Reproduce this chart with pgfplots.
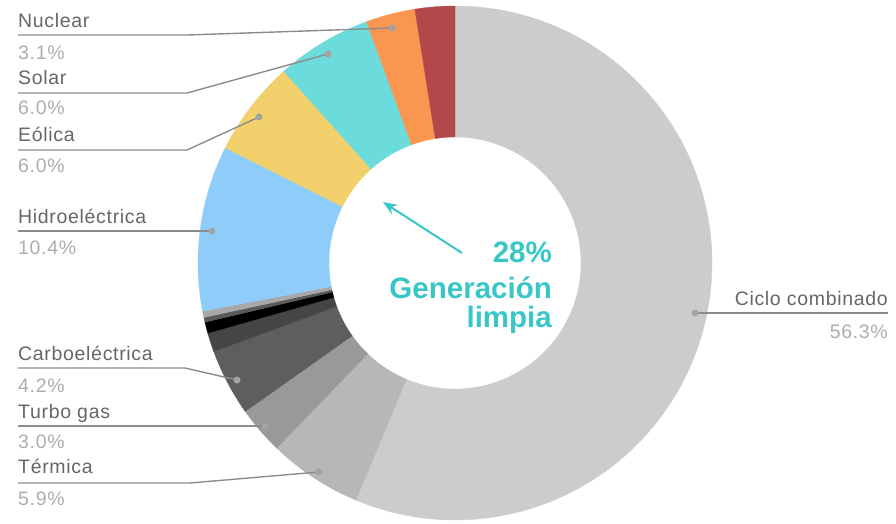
\documentclass[border=0pt]{standalone}
\usepackage{fontspec}
\setmainfont{Liberation Sans}
\newfontfamily\lblfont[LetterSpace=3.5]{Liberation Sans}
\usepackage{pgfplots}
\pgfplotsset{compat=1.18}
\usetikzlibrary{arrows.meta}

\definecolor{cc}{HTML}{CCCCCC}
\definecolor{te}{HTML}{B7B7B7}
\definecolor{tg}{HTML}{999999}
\definecolor{ca}{HTML}{5E5E5E}
\definecolor{o1}{HTML}{454545}
\definecolor{o2}{HTML}{000000}
\definecolor{o3}{HTML}{5A5A5A}
\definecolor{o4}{HTML}{A8A8A8}
\definecolor{hi}{HTML}{8ECDFA}
\definecolor{eo}{HTML}{F2D06B}
\definecolor{so}{HTML}{6CDBDB}
\definecolor{nu}{HTML}{FA9650}
\definecolor{ge}{HTML}{B3484B}
\definecolor{name}{HTML}{666666}
\definecolor{pct}{HTML}{ADADAD}
\definecolor{lead}{HTML}{8C8C8C}
\definecolor{teal}{HTML}{38C6C6}

\tikzset{
  lbl/.style={font=\lblfont\fontsize{19.5}{22}\selectfont, inner sep=0pt},
  big/.style={anchor=base east, inner sep=0pt, text=teal,
              font=\fontsize{29.5}{32}\bfseries},
  leader/.style={draw=lead, line width=1.4pt},
  dot/.style={fill=lead!80},
}

\begin{document}
\begin{tikzpicture}
\begin{axis}[name=ax, x=1pt, y=1pt, xmin=0, xmax=896, ymin=0, ymax=523,
  hide axis, clip=false]

% slices, clockwise from the top, in percent
\pgfplotsextra{%
  \begin{scope}[shift={(axis cs:455,260)}]
  \gdef\acc{90}%
  \foreach \p/\c in {56.3/cc, 5.9/te, 3.0/tg, 4.2/ca, 1.2/o1, 0.7/o2, 0.3/o3,
                     0.4/o4, 10.4/hi, 6.0/eo, 6.0/so, 3.1/nu, 2.5/ge}{%
    \pgfmathsetmacro\b{\acc-3.6*\p}%
    \fill[\c, draw=\c, line width=0.3pt] (\acc:257pt)
      arc[start angle=\acc, end angle=\b, radius=257pt]
      -- (\b:126pt) arc[start angle=\b, end angle=\acc, radius=126pt] -- cycle;
    \xdef\acc{\b}%
  }
  \end{scope}
}

% leader lines
\draw[leader] (axis cs:18,488) -- (axis cs:188,488) -- (axis cs:392,495);
\draw[leader] (axis cs:18,430) -- (axis cs:187,430) -- (axis cs:328,469);
\draw[leader] (axis cs:18,373) -- (axis cs:187,373) -- (axis cs:259,406);
\draw[leader] (axis cs:18,292) -- (axis cs:212,292);
\draw[leader] (axis cs:18,155) -- (axis cs:185,155) -- (axis cs:237,143);
\draw[leader] (axis cs:18,97) -- (axis cs:265,97);
\draw[leader] (axis cs:18,40) -- (axis cs:190,40) -- (axis cs:319,51);
\draw[leader] (axis cs:695,210) -- (axis cs:888,210);
\fill[dot] (axis cs:392,495) circle[radius=3.5pt];
\fill[dot] (axis cs:328,469) circle[radius=3.5pt];
\fill[dot] (axis cs:259,406) circle[radius=3.5pt];
\fill[dot] (axis cs:212,292) circle[radius=3.5pt];
\fill[dot] (axis cs:237,143) circle[radius=3.5pt];
\fill[dot] (axis cs:265,97) circle[radius=3.5pt];
\fill[dot] (axis cs:319,51) circle[radius=3.5pt];
\fill[dot] (axis cs:695,210) circle[radius=3.5pt];

% labels
\node[lbl, anchor=base west, text=name] at (axis cs:18,495) {Nuclear};
\node[lbl, anchor=base west, text=pct]  at (axis cs:18,463) {3.1\%};
\node[lbl, anchor=base west, text=name] at (axis cs:18,438) {Solar};
\node[lbl, anchor=base west, text=pct]  at (axis cs:18,408) {6.0\%};
\node[lbl, anchor=base west, text=name] at (axis cs:18,381) {Eólica};
\node[lbl, anchor=base west, text=pct]  at (axis cs:18,351) {6.0\%};
\node[lbl, anchor=base west, text=name] at (axis cs:18,300) {Hidroeléctrica};
\node[lbl, anchor=base west, text=pct]  at (axis cs:18,269) {10.4\%};
\node[lbl, anchor=base west, text=name] at (axis cs:18,163) {Carboeléctrica};
\node[lbl, anchor=base west, text=pct]  at (axis cs:18,131) {4.2\%};
\node[lbl, anchor=base west, text=name] at (axis cs:18,105) {Turbo gas};
\node[lbl, anchor=base west, text=pct]  at (axis cs:18,75)  {3.0\%};
\node[lbl, anchor=base west, text=name] at (axis cs:18,50)  {Térmica};
\node[lbl, anchor=base west, text=pct]  at (axis cs:18,18)  {5.9\%};
\node[lbl, anchor=base east, text=name] at (axis cs:888,218) {Ciclo combinado};
\node[lbl, anchor=base east, text=pct]  at (axis cs:888,185) {56.3\%};

% clean generation note
\draw[teal, line width=2pt, -{Stealth[length=14pt, width=11pt]}]
  (axis cs:462,270) -- (axis cs:383,321);
\node[big] at (axis cs:552,261) {28\%};
\node[big] at (axis cs:552,225) {Generación};
\node[big] at (axis cs:552,196) {limpia};
\end{axis}
\pgfresetboundingbox
\useasboundingbox (ax.south west) rectangle (ax.north east);
\end{tikzpicture}
\end{document}
